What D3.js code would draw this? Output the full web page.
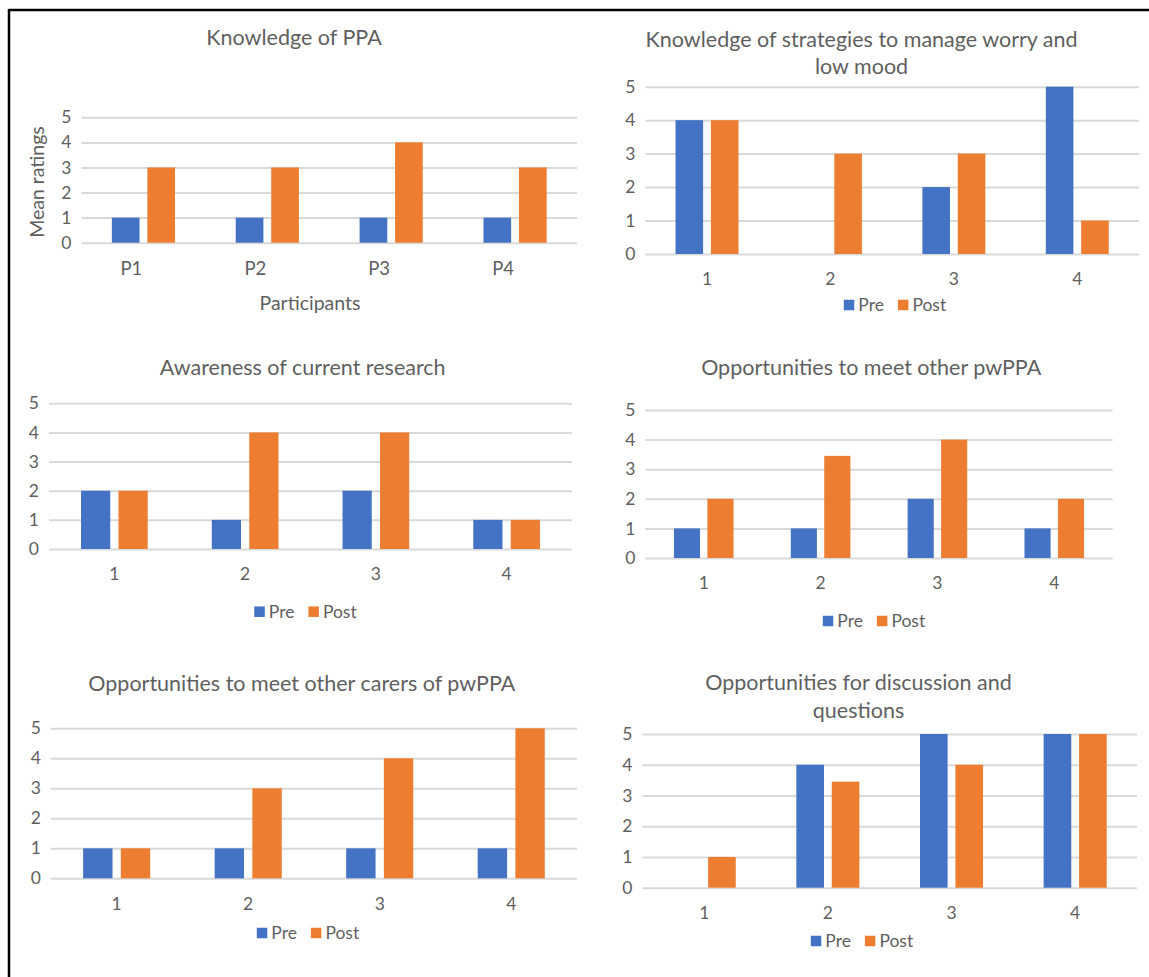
<!DOCTYPE html>
<html>
<head>
<meta charset="utf-8">
<script src="https://cdn.jsdelivr.net/npm/d3@7"></script>
<style>
body { margin: 0; background: #fff; }
svg { display: block; font-family: Lato, "Open Sans", sans-serif; }
</style>
</head>
<body>
<svg id="chart" width="1149" height="977"></svg>
<script>
// data
var series = ['Pre', 'Post'];
var colors = ['#4472C4', '#ED7D31'];
var partCats = ['P1', 'P2', 'P3', 'P4'];
var numCats = ['1', '2', '3', '4'];
var yTicks = [0, 1, 2, 3, 4, 5];

var ppaTitle = ['Knowledge of PPA'];
var ppaPre = [1, 1, 1, 1];
var ppaPost = [3, 3, 4, 3];

var moodTitle = ['Knowledge of strategies to manage worry and', 'low mood'];
var moodPre = [4, 0, 2, 5];
var moodPost = [4, 3, 3, 1];

var researchTitle = ['Awareness of current research'];
var researchPre = [2, 1, 2, 1];
var researchPost = [2, 4, 4, 1];

var meetTitle = ['Opportunities to meet other pwPPA'];
var meetPre = [1, 1, 2, 1];
var meetPost = [2, 3.45, 4, 2];

var carersTitle = ['Opportunities to meet other carers of pwPPA'];
var carersPre = [1, 1, 1, 1];
var carersPost = [1, 3, 4, 5];

var discussTitle = ['Opportunities for discussion and', 'questions'];
var discussPre = [0, 4, 5, 5];
var discussPost = [1, 3.45, 4, 5];

var textCol = '#5f5f5f';
var svg = d3.select('#chart');

// frame lines
svg.append('line').attr('x1', 9).attr('y1', 10).attr('x2', 1149).attr('y2', 10)
    .attr('stroke', '#000').attr('stroke-width', 2.5);
svg.append('line').attr('x1', 9).attr('y1', 9).attr('x2', 9).attr('y2', 977)
    .attr('stroke', '#000').attr('stroke-width', 2.5);

function drawChart(cfg) {
    var g = svg.append('g');
    var x = d3.scaleBand().domain(cfg.cats).range([cfg.x0, cfg.x1])
        .paddingInner(0.49).paddingOuter(0.245);
    var xs = d3.scaleBand().domain(series).range([0, x.bandwidth()]).paddingInner(0.22);
    var y = d3.scaleLinear().domain([0, 5]).range([cfg.yBot, cfg.yTop]);

    // gridlines + y labels
    var ya = g.append('g').attr('transform', 'translate(' + cfg.x0 + ',0)')
        .call(d3.axisLeft(y).tickValues(yTicks).tickFormat(d3.format('d'))
            .tickSize(-(cfg.x1 - cfg.x0)).tickPadding(10));
    ya.select('.domain').remove();
    ya.selectAll('line').attr('stroke', '#d9d9d9').attr('stroke-width', 2);
    ya.selectAll('text').attr('fill', textCol).style('font-size', '17.5px')
        .style('font-family', 'Lato, sans-serif');

    // x labels
    var xa = g.append('g').attr('transform', 'translate(0,' + cfg.yBot + ')')
        .call(d3.axisBottom(x).tickSize(0).tickPadding(19));
    xa.select('.domain').remove();
    xa.selectAll('text').attr('fill', textCol).attr('dx', cfg.labelShift || 0)
        .style('font-size', cfg.catFont || '17.5px').style('font-family', 'Lato, sans-serif');

    // bars
    var rows = cfg.cats.map(function (c, i) {
        return {cat: c, vals: [cfg.pre[i], cfg.post[i]]};
    });
    var grp = g.selectAll('.cat').data(rows).enter().append('g')
        .attr('transform', function (d) { return 'translate(' + x(d.cat) + ',0)'; });
    grp.selectAll('rect').data(function (d) {
        return d.vals.map(function (v, j) { return {s: series[j], v: v, c: colors[j]}; });
    }).enter().append('rect')
        .attr('x', function (d) { return xs(d.s); })
        .attr('width', xs.bandwidth())
        .attr('y', function (d) { return y(d.v); })
        .attr('height', function (d) { return y(0) - y(d.v); })
        .attr('fill', function (d) { return d.c; });

    // title
    g.append('text').attr('text-anchor', 'middle').attr('fill', textCol)
        .style('font-size', '21.5px')
        .selectAll('tspan').data(cfg.title).enter().append('tspan')
        .attr('x', cfg.titleX)
        .attr('y', function (d, i) { return cfg.titleY[i]; })
        .attr('dy', '0.35em')
        .text(function (d) { return d; });

    // axis titles
    if (cfg.xTitle) {
        g.append('text').attr('x', cfg.xTitle[1]).attr('y', cfg.xTitle[2]).attr('dy', '0.35em')
            .attr('text-anchor', 'middle').attr('fill', textCol).style('font-size', '19.5px')
            .text(cfg.xTitle[0]);
    }
    if (cfg.yTitle) {
        g.append('text').attr('transform', 'translate(' + cfg.yTitle[1] + ',' + cfg.yTitle[2] + ') rotate(-90)')
            .attr('dy', '0.35em').attr('text-anchor', 'middle').attr('fill', textCol)
            .style('font-size', '19.5px').text(cfg.yTitle[0]);
    }

    // legend
    if (cfg.legend) {
        var lg = g.append('g');
        var sq = 10.5, off = 0;
        series.forEach(function (s, i) {
            lg.append('rect').attr('x', off).attr('y', -sq / 2).attr('width', sq).attr('height', sq)
                .attr('fill', colors[i]);
            var t = lg.append('text').attr('x', off + sq + 4).attr('y', 0).attr('dy', '0.35em')
                .attr('fill', textCol).style('font-size', '17.5px').text(s);
            off += sq + 4 + t.node().getComputedTextLength() + 14;
        });
        off -= 14;
        lg.attr('transform', 'translate(' + (cfg.legend[0] - off / 2) + ',' + cfg.legend[1] + ')');
    }
}

drawChart({cats: partCats, pre: ppaPre, post: ppaPost, title: ppaTitle,
    x0: 81.5, x1: 577, yTop: 117.3, yBot: 242.7, titleX: 294, titleY: [37.7],
    labelShift: -12, catFont: '18.5px',
    xTitle: ['Participants', 310, 303], yTitle: ['Mean ratings', 37, 182]});
drawChart({cats: numCats, pre: moodPre, post: moodPost, title: moodTitle,
    x0: 645.3, x1: 1139, yTop: 86.7, yBot: 254, titleX: 861.6, titleY: [39, 66.7],
    legend: [895, 305]});
drawChart({cats: numCats, pre: researchPre, post: researchPost, title: researchTitle,
    x0: 49, x1: 572, yTop: 403.3, yBot: 549, titleX: 302.7, titleY: [367.7],
    legend: [305.5, 611.7]});
drawChart({cats: numCats, pre: meetPre, post: meetPost, title: meetTitle,
    x0: 645.3, x1: 1112.7, yTop: 410, yBot: 558, titleX: 871.2, titleY: [367.7],
    legend: [874, 621]});
drawChart({cats: numCats, pre: carersPre, post: carersPost, title: carersTitle,
    x0: 50.9, x1: 577, yTop: 728.3, yBot: 878.3, titleX: 301.8, titleY: [683.3],
    legend: [308, 933]});
drawChart({cats: numCats, pre: discussPre, post: discussPost, title: discussTitle,
    x0: 642.4, x1: 1137, yTop: 734, yBot: 887.7, titleX: 858.5, titleY: [682.3, 710],
    legend: [862, 941]});
</script>
</body>
</html>
